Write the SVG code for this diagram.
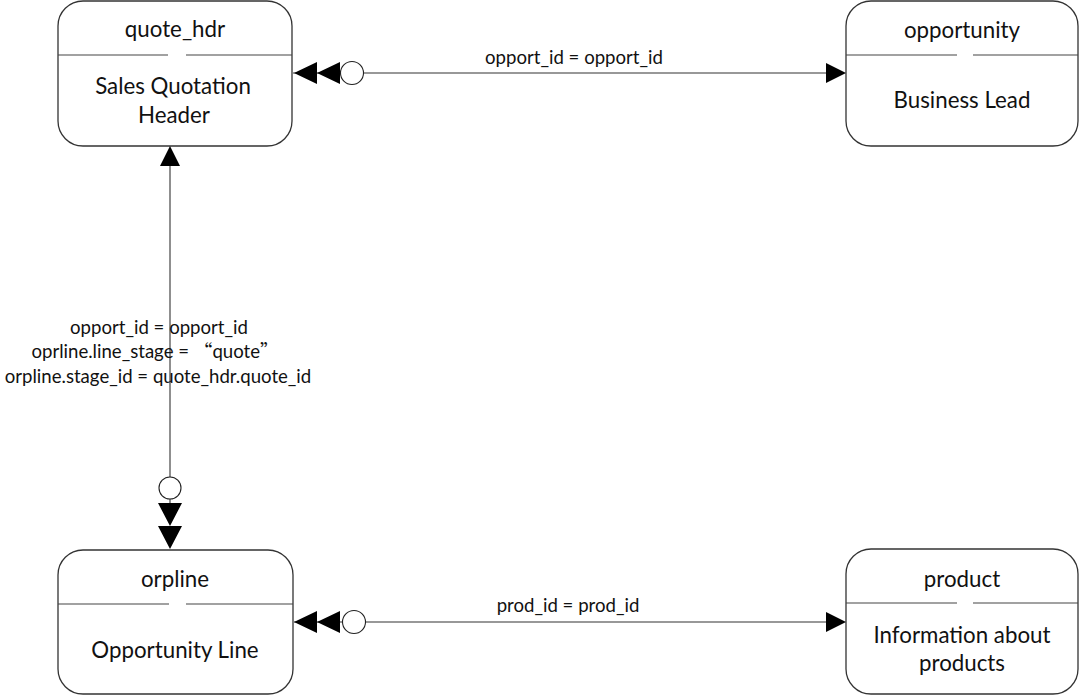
<svg xmlns="http://www.w3.org/2000/svg" width="1080" height="696" viewBox="0 0 1080 696">
<style>
.box{fill:#fff;stroke:#333;stroke-width:1.3}
.div{stroke:#444;stroke-width:1.2;fill:none}
.t{font-family:Lato,"Open Sans","Liberation Sans",sans-serif;font-size:22.3px;fill:#111;text-anchor:middle}
.lbl{font-family:Lato,"Open Sans","Liberation Sans",sans-serif;font-size:18.6px;fill:#111;text-anchor:middle}
.cjk{font-family:"Noto Sans CJK SC",sans-serif}
.ln{stroke:#333;stroke-width:1.1;fill:none}
.ah{fill:#000;stroke:none}
.circ{fill:#fff;stroke:#222;stroke-width:1.1}
</style>
<rect width="1080" height="696" fill="#fff"/>
<g id="quote_hdr">
<rect class="box" x="58" y="1" width="234" height="145" rx="25"/>
<path class="div" d="M58 55H168M186 55H292"/>
<text class="t" x="175" y="37">quote_hdr</text>
<text class="t" x="173" y="94">Sales Quotation</text>
<text class="t" x="174" y="123">Header</text>
</g>
<g id="opportunity">
<rect class="box" x="846" y="1" width="232" height="145" rx="25"/>
<path class="div" d="M846 55H957M973 55H1078"/>
<text class="t" x="962" y="38">opportunity</text>
<text class="t" x="962" y="108">Business Lead</text>
</g>
<g id="orpline">
<rect class="box" x="58" y="550" width="235" height="144" rx="25"/>
<path class="div" d="M58 604H169M186 604H293"/>
<text class="t" x="175" y="587">orpline</text>
<text class="t" x="175" y="658">Opportunity Line</text>
</g>
<g id="product">
<rect class="box" x="846" y="549" width="232" height="145" rx="25"/>
<path class="div" d="M846 603H957M973 603H1078"/>
<text class="t" x="962" y="587">product</text>
<text class="t" x="962" y="643">Information about</text>
<text class="t" x="962" y="671">products</text>
</g>
<g id="connectors">
<g id="c1">
<path class="ln" d="M293 73H826"/>
<path class="ah" d="M294 73L317 62V84ZM317 73L340 62V84Z"/>
<circle class="circ" cx="352" cy="73" r="11.5"/>
<path class="ah" d="M846 73L826 63V83Z"/>
<text class="lbl" x="574" y="64">opport_id = opport_id</text>
</g>
<g id="c2">
<path class="ln" d="M170 166V503"/>
<path class="ah" d="M170 146L180 166H160Z"/>
<circle class="circ" cx="170" cy="488" r="11"/>
<path class="ah" d="M158 503H182L170 526ZM158 526H182L170 549Z"/>
<text class="lbl" x="159" y="334">opport_id = opport_id</text>
<text class="lbl" x="155" y="358">oprline.line_stage = <tspan class="cjk">“</tspan>quote<tspan class="cjk">”</tspan></text>
<text class="lbl" x="158" y="383">orpline.stage_id = quote_hdr.quote_id</text>
</g>
<g id="c3">
<path class="ln" d="M294 622H827"/>
<path class="ah" d="M294 622L317 611V633ZM317 622L340 611V633Z"/>
<circle class="circ" cx="354" cy="622" r="11.5"/>
<path class="ah" d="M846 622L826 612V632Z"/>
<text class="lbl" x="568" y="612">prod_id = prod_id</text>
</g>
</g>
</svg>
